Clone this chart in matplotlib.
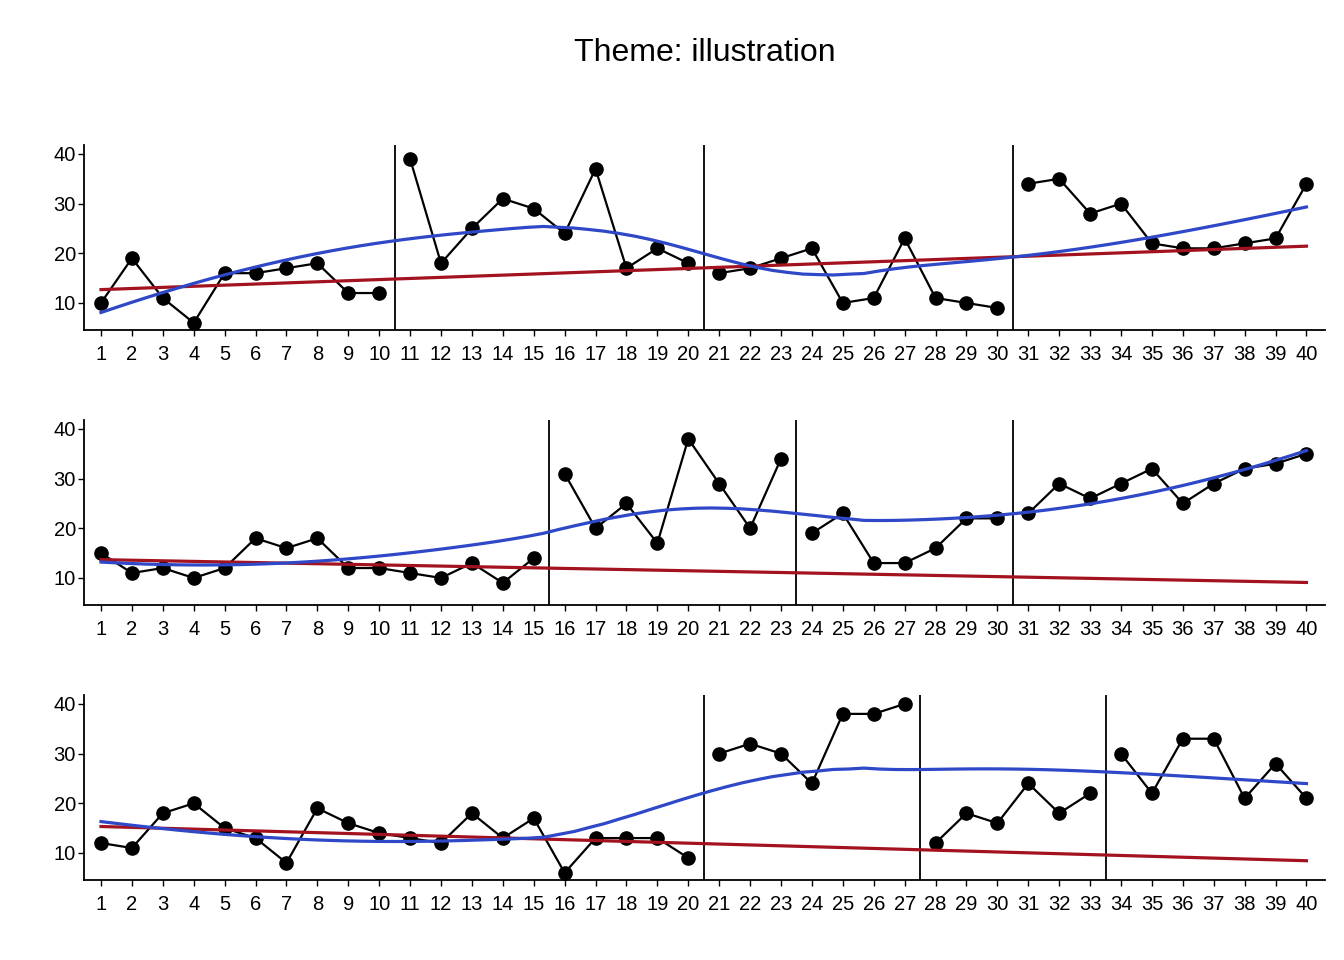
import numpy as np
import matplotlib
matplotlib.use("Agg")
import matplotlib.pyplot as plt

plt.rcParams['font.family'] = ['Liberation Sans', 'DejaVu Sans']

x = np.arange(1, 41)

# three series, one value per session
y1 = [10, 19, 11, 6, 16, 16, 17, 18, 12, 12,
      39, 18, 25, 31, 29, 24, 37, 17, 21, 18,
      16, 17, 19, 21, 10, 11, 23, 11, 10, 9,
      34, 35, 28, 30, 22, 21, 21, 22, 23, 34]
y2 = [15, 11, 12, 10, 12, 18, 16, 18, 12, 12, 11, 10, 13, 9, 14,
      31, 20, 25, 17, 38, 29, 20, 34,
      19, 23, 13, 13, 16, 22, 22,
      23, 29, 26, 29, 32, 25, 29, 32, 33, 35]
y3 = [12, 11, 18, 20, 15, 13, 8, 19, 16, 14, 13, 12, 18, 13, 17, 6, 13, 13, 13, 9,
      30, 32, 30, 24, 38, 38, 40,
      12, 18, 16, 24, 18, 22,
      30, 22, 33, 33, 21, 28, 21]

# last session of each phase (phase change lines drawn after these)
breaks1 = [10, 20, 30]
breaks2 = [15, 23, 30]
breaks3 = [20, 27, 33]

series = [(y1, breaks1), (y2, breaks2), (y3, breaks3)]

BLUE = "#2F48C8"
RED = "#A3121F"


def loess(xs, ys, grid, span=0.75):
    # local quadratic fit with tricube weights
    xs = np.asarray(xs, float)
    ys = np.asarray(ys, float)
    q = int(np.floor(len(xs) * span))
    out = []
    for g in grid:
        d = np.abs(xs - g)
        h = np.sort(d)[q - 1] * 1.0000001
        w = np.clip(1 - (d / h) ** 3, 0, None) ** 3
        A = np.vstack([np.ones_like(xs), xs - g, (xs - g) ** 2]).T
        W = np.sqrt(w)
        coef = np.linalg.lstsq(A * W[:, None], ys * W, rcond=None)[0]
        out.append(coef[0])
    return np.array(out)


fig = plt.figure(figsize=(13.44, 9.6), dpi=100)
left, width = 84 / 1344, (1325 - 84) / 1344
tops = [145, 420, 695]
h = 185

for (yy, brk), top in zip(series, tops):
    ax = fig.add_axes([left, 1 - (top + h) / 960, width, h / 960])
    yy = np.array(yy)
    edges = [0] + brk + [40]
    for a, b in zip(edges[:-1], edges[1:]):
        seg = slice(a, b)
        ax.plot(x[seg], yy[seg], color='black', lw=1.6, marker='o', ms=9.5, zorder=3)
    for b in brk:
        ax.axvline(b + 0.5, color='black', lw=1.3, zorder=2)

    # baseline trend extended over all sessions
    base = slice(0, brk[0])
    k, c = np.polyfit(x[base], yy[base], 1)
    ax.plot(x, k * x + c, color=RED, lw=2.3, zorder=4)

    grid = np.linspace(1, 40, 80)
    ax.plot(grid, loess(x, yy, grid), color=BLUE, lw=2.3, zorder=5)

    ax.set_xlim(0.45, 40.6)
    ax.set_ylim(4.56, 41.8)
    ax.set_xticks(x)
    ax.set_yticks([10, 20, 30, 40])
    ax.tick_params(direction='out', length=4.3, width=1, labelsize=14.5)
    ax.tick_params(axis='x', pad=6.5)
    ax.tick_params(axis='y', pad=1.5)
    for s in ['top', 'right']:
        ax.spines[s].set_visible(False)
    for s in ['left', 'bottom']:
        ax.spines[s].set_linewidth(1.3)

fig.text(left + width / 2, 1 - 53 / 960, "Theme: illustration", ha='center', va='center', fontsize=23)

fig.savefig("out.png", dpi=100, facecolor='white')
